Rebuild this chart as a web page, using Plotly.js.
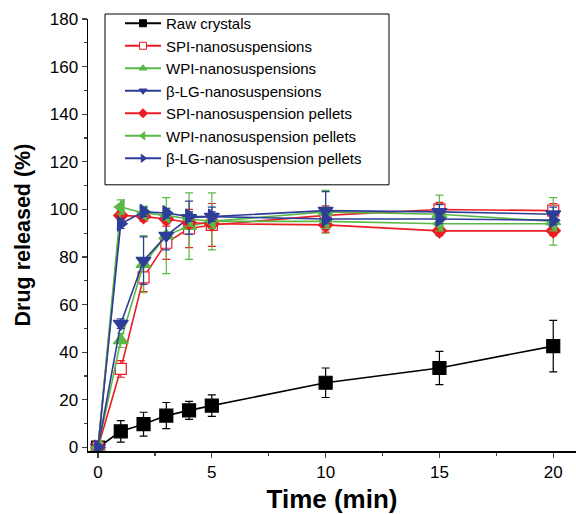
<!DOCTYPE html>
<html><head><meta charset="utf-8">
<script src="https://cdn.plot.ly/plotly-3.0.1.min.js"></script>
<style>html,body{margin:0;padding:0;background:#fff}#chart{width:576px;height:514px}</style>
</head><body><div id="chart"></div>
<script>
const time = [0, 1, 2, 3, 4, 5, 10, 15, 20];
const seriesNames = ["Raw crystals", "SPI-nanosuspensions", "WPI-nanosuspensions", "β-LG-nanosuspensions",
  "SPI-nanosuspension pellets", "WPI-nanosuspension pellets", "β-LG-nanosuspension pellets"];
const raw = [0, 6.8, 9.8, 13.4, 15.6, 17.6, 27.2, 33.4, 42.6];
const rawErr = [0, 4.5, 5, 5.5, 3.8, 4.5, 6.2, 7, 10.8];
const spiNano = [0, 33, 71.5, 86, 92, 93.5, 97.5, 100, 99.5];
const spiNanoErr = [0, 3.5, 6, 7, 8, 9, 4, 3, 3];
const wpiNano = [0, 45, 77, 89, 93, 95, 99, 98, 95];
const wpiNanoErr = [0, 3, 12, 16, 14, 12, 9, 8, 10];
const blgNano = [0, 52, 78.5, 89, 96.5, 97, 99.5, 99, 98];
const blgNanoErr = [0, 2, 10, 6, 7, 4, 8, 3, 3];
const spiPel = [0, 97.5, 97, 96, 94.5, 94, 93.5, 91, 91];
const spiPelErr = [0, 2, 2, 2, 2, 2, 3, 2, 2];
const wpiPel = [0, 101, 98.5, 97.5, 96, 95, 95, 94, 94];
const wpiPelErr = [0, 3, 2, 2, 3, 3, 3, 3, 3];
const blgPel = [0, 94, 99, 98.5, 97, 97, 96, 96, 95.5];
const blgPelErr = [0, 2, 2, 2, 2, 2, 2, 2, 2];

const RED = '#ec1c24', GREEN = '#5ab946', BLUE = '#2e3e98', BLACK = '#000000';

const specs = [
  [raw, rawErr, BLACK, 'square', 13, null],
  [spiNano, spiNanoErr, RED, 'square', 11, '#ffffff'],
  [wpiNano, wpiNanoErr, GREEN, 'triangle-up', 13, null],
  [blgNano, blgNanoErr, BLUE, 'triangle-down', 13, null],
  [spiPel, spiPelErr, RED, 'diamond', 11, null],
  [wpiPel, wpiPelErr, GREEN, 'triangle-left', 13, null],
  [blgPel, blgPelErr, BLUE, 'triangle-right', 13, null]
];

const data = [];
specs.forEach((s, i) => {
  const [y, err, color, symbol, size, fill] = s;
  data.push({
    x: time, y: y, name: seriesNames[i], type: 'scatter', mode: 'lines+markers', showlegend: false,
    line: {color: color, width: 1.6},
    marker: {symbol: symbol, size: size, color: fill || color, line: {color: color, width: 1.2}},
    error_y: {type: 'data', array: err, visible: true, color: color, thickness: 1.2, width: 4}
  });
});
// legend entries with smaller symbols, as in the reference legend
specs.forEach((s, i) => {
  const [y, err, color, symbol, size, fill] = s;
  data.push({
    x: [null], y: [null], name: seriesNames[i], type: 'scatter', mode: 'lines+markers', showlegend: true,
    line: {color: color, width: 2},
    marker: {symbol: symbol, size: 7, color: fill || color, line: {color: color, width: 1}}
  });
});

const W = 576, H = 514, L = 88, R = 0, T = 19, B = 62.5;
const pw = W - L - R, ph = H - T - B;
function px(x) { return (x - L) / pw; }
function py(y) { return (H - B - y) / ph; }

const layout = {
  width: W, height: H,
  margin: {l: L, r: R, t: T, b: B},
  paper_bgcolor: '#fff', plot_bgcolor: '#fff',
  font: {family: 'Arial, "Liberation Sans", sans-serif', color: '#000', size: 17},
  showlegend: true,
  legend: {x: px(120), y: py(7), xanchor: 'left', yanchor: 'top', bgcolor: 'rgba(0,0,0,0)',
    borderwidth: 0, font: {size: 15, family: 'Arial, "Liberation Sans", sans-serif'}, tracegroupgap: 0,
    itemwidth: 36},
  xaxis: {
    range: [-0.44, 21.0], tickvals: [0, 5, 10, 15, 20], ticks: 'outside', ticklen: 5, tickwidth: 1.2,
    showline: true, linecolor: '#000', linewidth: 1.5, showgrid: false, zeroline: false,
    tickfont: {size: 17},
    minor: {dtick: 2.5, tick0: 0, ticks: 'outside', ticklen: 3, tickwidth: 1.2, showgrid: false},
    title: {text: '<b>Time (min)</b>', font: {size: 26}, standoff: 14}
  },
  yaxis: {
    range: [-1.47, 180], dtick: 20, tick0: 0, ticks: 'outside', ticklen: 5, tickwidth: 1.2,
    showline: true, linecolor: '#000', linewidth: 1.5, showgrid: false, zeroline: false,
    tickfont: {size: 17},
    minor: {dtick: 10, ticks: 'outside', ticklen: 3, tickwidth: 1.2, showgrid: false},
    title: {text: '<b>Drug released (%)</b>', font: {size: 21.5}, standoff: 13}
  },
  shapes: [{type: 'rect', xref: 'paper', yref: 'paper', x0: px(105), x1: px(389), y0: py(185), y1: py(14),
    line: {color: '#000', width: 1}, fillcolor: 'rgba(0,0,0,0)'}]
};
Plotly.newPlot('chart', data, layout, {displayModeBar: false, staticPlot: true});
</script></body></html>
